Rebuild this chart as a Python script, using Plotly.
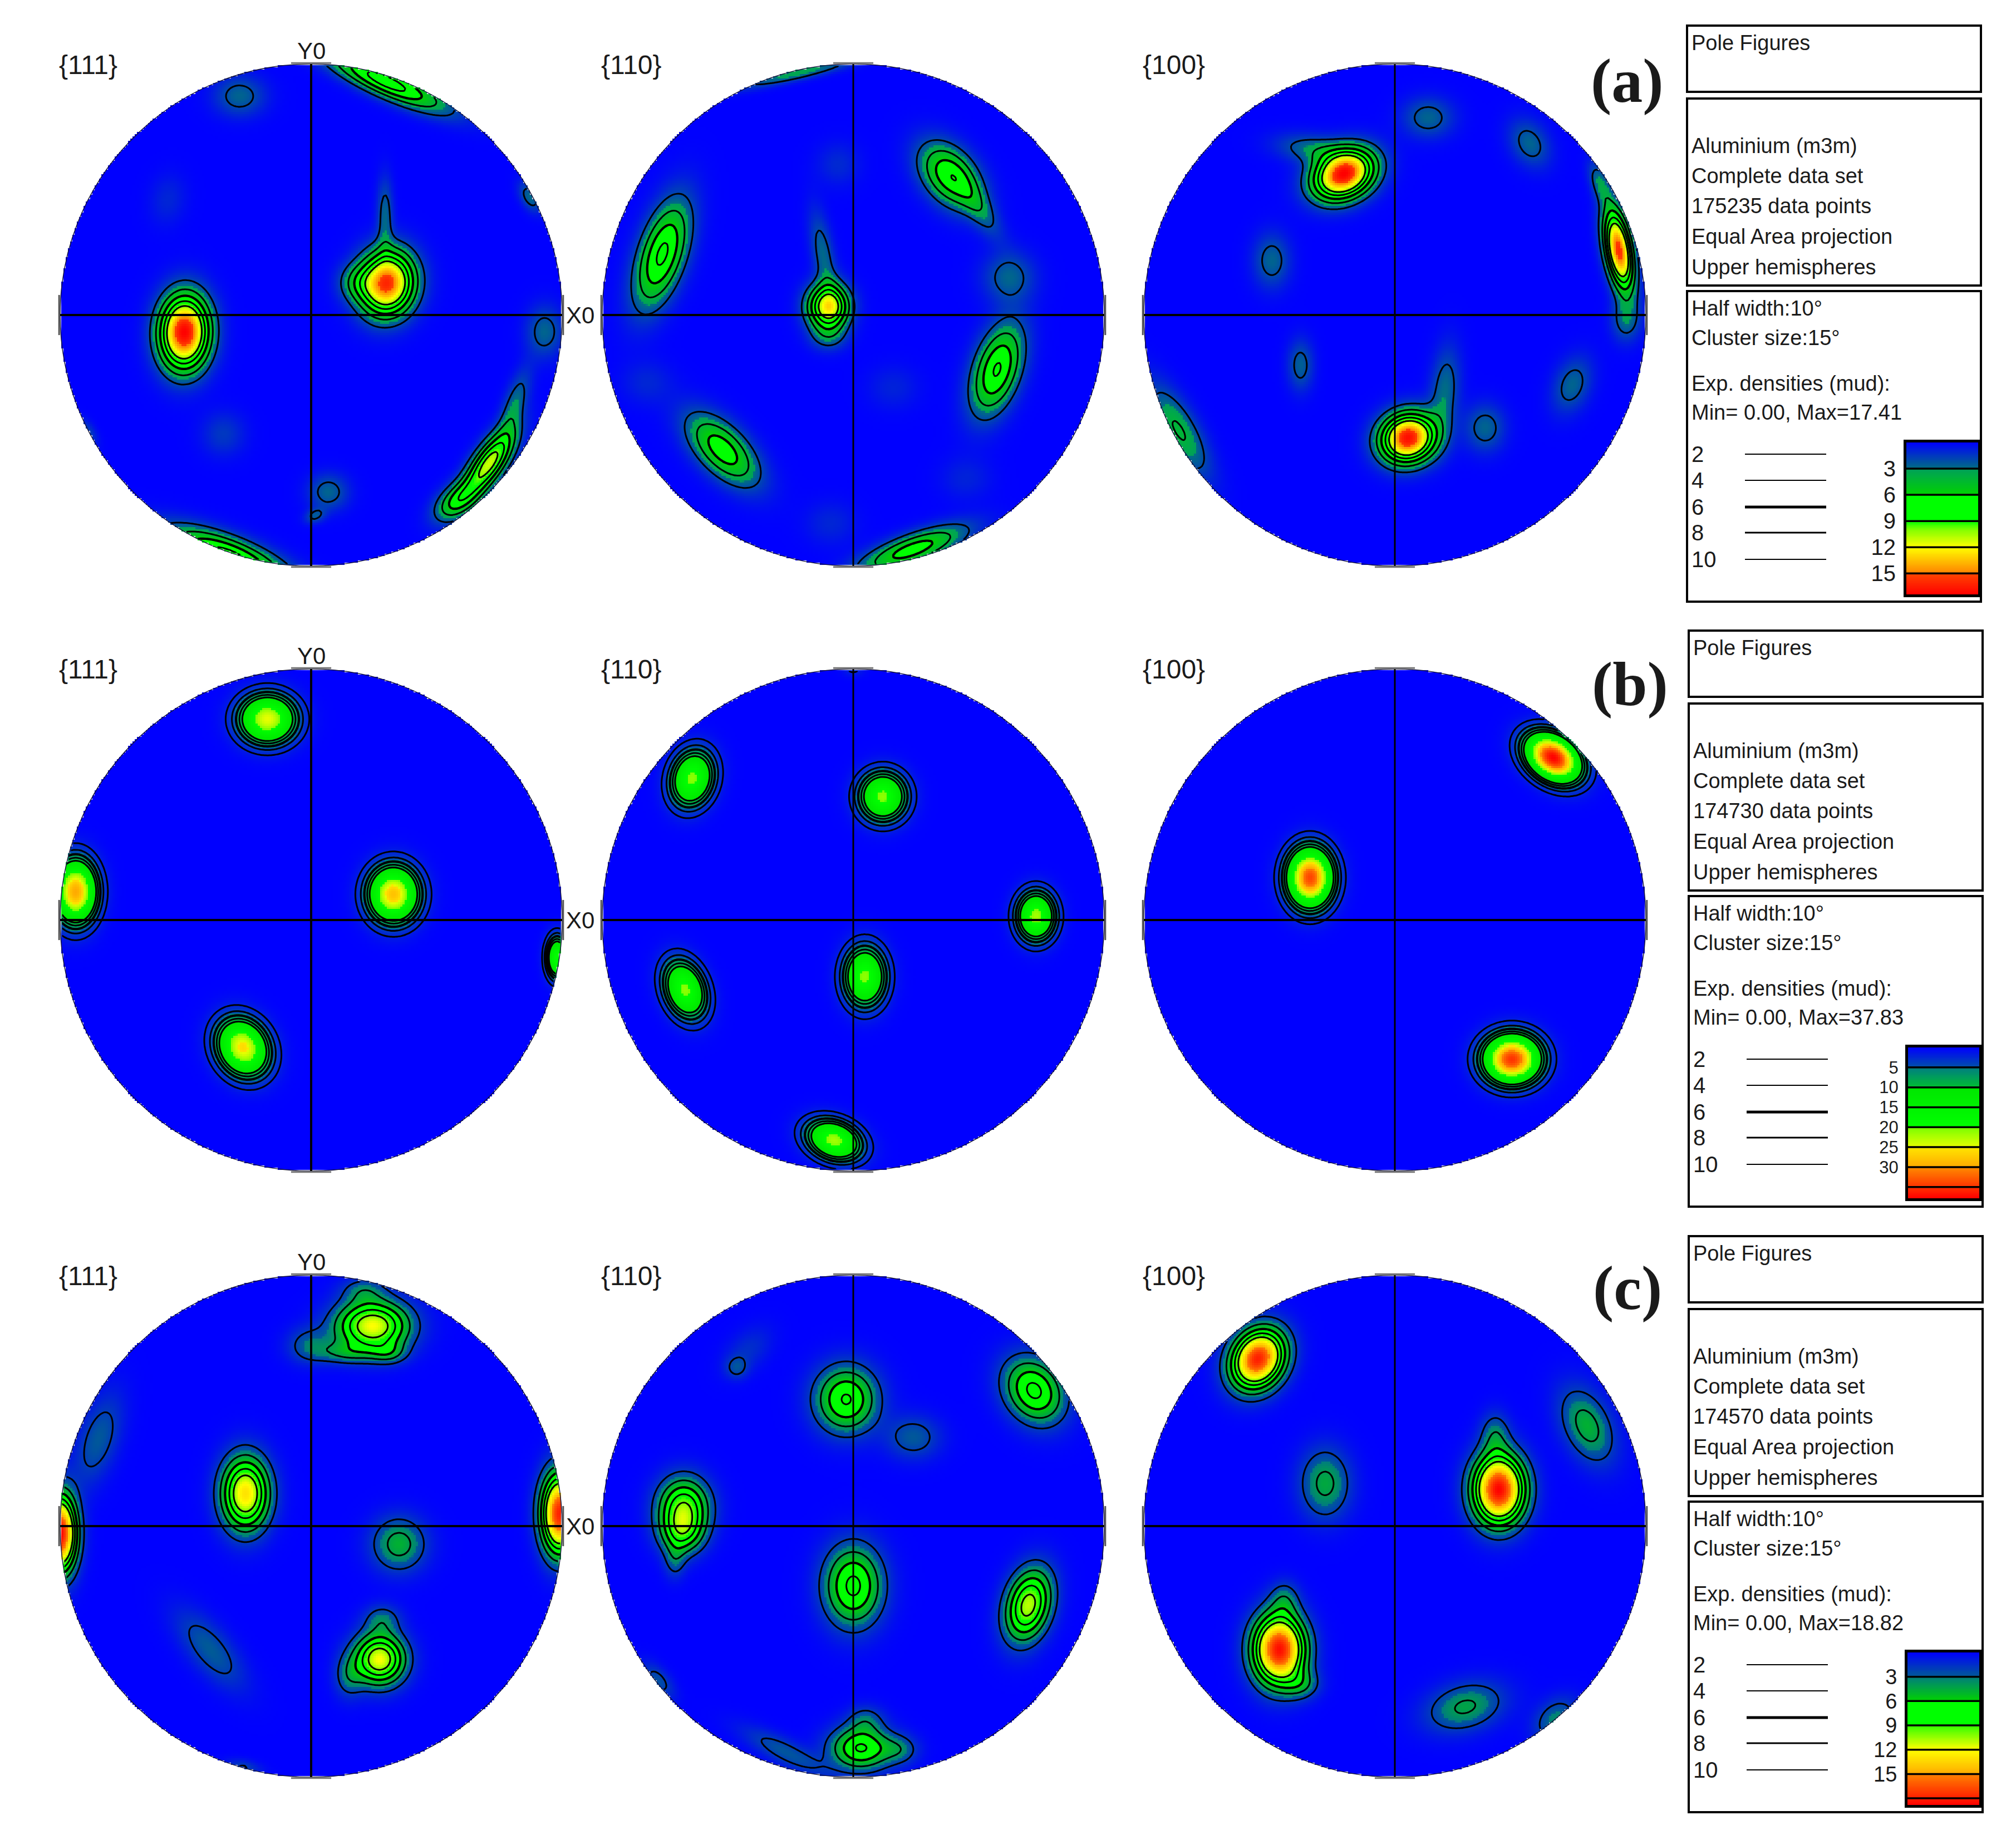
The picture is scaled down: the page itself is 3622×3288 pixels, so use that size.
import numpy as np
import plotly.graph_objects as go

WIDTH = 3622
HEIGHT = 3288
BODY_MARGIN = 8  # the page puts the figure 8px in from its corner

# pole density peaks, in pole figure coordinates (unit disk)
# x, y, peak density, sigma along, sigma across, angle of the long side in degrees
A_111 = [(-.505, -.069, 17.4, .10, .066, 88), (.303, .126, 16, .087, .073, 80), (.295, .40, 2.7, .10, .022, 90),
         (.18, .13, 2.8, .05, .05, 0), (.708, -.591, 11, .105, .04, 55), (.81, -.36, 3, .10, .03, 72),
         (.58, -.74, 6, .07, .04, 40), (.30, .93, 9, .17, .04, -24), (-.33, -.96, 9, .17, .05, -21),
         (-.285, .872, 2.7, .07, .055, 0), (.93, -.066, 2.7, .07, .05, 90), (.069, -.705, 2.7, .055, .05, 0),
         (.015, -.80, 2.2, .03, .02, 20), (.872, .47, 2.8, .045, .025, -60), (-.35, -.474, 1.5, .06, .06, 0),
         (-.57, .46, 1.0, .07, .05, 80), (-.89, -.466, 1.8, .04, .02, -60)]
A_110 = [(-.10, .033, 12.5, .06, .055, 90), (-.12, .24, 2.8, .12, .03, 100), (-.10, -.085, 2.3, .05, .04, 0),
         (-.761, .243, 8.4, .148, .06, 72), (.385, .555, 7.5, .10, .065, -50), (.50, .43, 2.6, .10, .035, -57),
         (.62, .15, 2.7, .07, .07, 90), (.573, -.217, 8.2, .125, .06, 72), (-.52, -.537, 7.2, .12, .06, -45),
         (.237, -.934, 7, .15, .04, 20), (-.22, .965, 3.4, .18, .02, 13), (-.82, -.27, 1, .07, .06, 0),
         (-.06, .60, 1.1, .06, .06, 0), (.16, -.29, .9, .07, .06, 0), (.45, -.65, .9, .07, .06, 0),
         (-.09, -.83, 1, .07, .06, 0)]
A_100 = [(-.204, .56, 17.4, .085, .062, 25), (-.33, .66, 2.8, .10, .04, -8), (.892, .259, 16, .11, .035, -80),
         (.817, .524, 3, .06, .025, -70), (.92, -.02, 2.7, .06, .04, 90), (.053, -.49, 17, .075, .065, 20),
         (.20, -.30, 2.9, .12, .04, 85), (.133, .786, 2.7, .07, .055, 0), (.537, .683, 2.7, .07, .05, -60),
         (-.49, .217, 2.7, .075, .05, 90), (-.376, -.20, 2.6, .07, .035, 90), (.706, -.279, 2.7, .08, .05, 70),
         (.36, -.45, 2.7, .065, .055, 90), (-.86, -.46, 4.2, .14, .05, -60)]

B_111 = [(-.174, .80, 25, .074, .064, 0), (.328, .103, 28, .074, .066, 90), (-.938, .113, 30, .083, .055, 90),
         (-.272, -.508, 26, .078, .064, 120), (.98, -.15, 20, .055, .028, 90)]
B_110 = [(-.641, .564, 21, .074, .055, 75), (.118, .492, 21, .064, .062, 90), (.728, .015, 22, .064, .05, 90),
         (-.67, -.277, 21, .078, .052, 110), (.046, -.226, 21, .078, .055, 90), (-.077, -.877, 22, .074, .05, -20),
         (0, 1.0, 2.5, .03, .02, 0)]
B_100 = [(.63, .646, 37.8, .078, .055, -35), (-.338, .169, 34, .078, .06, 90), (.467, -.554, 35, .074, .064, 0)]

C_111 = [(-.262, .13, 13, .10, .065, 90), (.245, .797, 12, .10, .07, 0), (-.01, .72, 2.8, .06, .05, 0),
         (.135, .69, 3, .08, .03, 0), (.31, .69, 3, .05, .03, 0), (.21, .94, 2.6, .06, .035, 0),
         (.273, -.53, 12, .07, .07, 0), (.284, -.37, 2.8, .05, .04, 0), (.15, -.6, 2.7, .06, .04, 90),
         (.35, -.072, 4.8, .075, .075, 0), (-.847, .346, 2.9, .13, .055, 72), (-.402, -.492, 3, .13, .055, -50),
         (-1.0, -.03, 18.8, .105, .045, 90), (.99, .05, 18, .11, .05, 90), (-.27, -.96, 2.1, .05, .02, -10)]
C_110 = [(-.028, .505, 8.2, .09, .085, 90), (.72, .54, 8.5, .095, .075, -55), (.24, .354, 2.9, .075, .06, 0),
         (-.675, .077, 9.5, .08, .07, 90), (-.683, -.03, 6, .06, .06, 0), (-.71, -.14, 2.4, .05, .03, 90),
         (0, -.238, 8.5, .11, .08, 90), (.697, -.315, 11, .10, .06, 75), (.03, -.885, 8.2, .085, .06, 0),
         (.05, -.77, 2.4, .05, .04, 0), (.19, -.89, 2.6, .05, .04, 0), (-.27, -.90, 2.8, .13, .035, -27),
         (-.465, .63, 2.05, .03, .03, 0), (-.42, .70, 1.5, .08, .05, 45), (-.777, -.615, 2.6, .06, .03, -50)]
C_100 = [(-.545, .665, 18, .085, .068, 60), (.415, .146, 18.8, .095, .07, 90), (.40, .37, 3, .06, .04, 90),
         (-.461, -.492, 18.5, .095, .07, 90), (-.44, -.29, 2.6, .05, .04, 90), (-.37, -.63, 3, .05, .04, 0),
         (.766, .40, 4.8, .11, .065, -65), (-.278, .17, 4.5, .097, .07, 90), (.28, -.72, 4.3, .11, .065, 15),
         (.64, -.77, 3.4, .07, .05, 45)]

ROW_PEAKS = [[A_111, A_110, A_100], [B_111, B_110, B_100], [C_111, C_110, C_100]]
POLE_LABELS = ['{111}', '{110}', '{100}']
ROW_LABELS = ['(a)', '(b)', '(c)']

# colour band values and colours of the density scale of each row
MAX_DENSITY = [17.41, 37.83, 18.82]
SCALE_VALUES = [
    [0, 3, 3.01, 6, 6.01, 9, 10, 12, 15, 15.01, 17.41],
    [0, 5, 5.01, 10, 10.01, 20, 20.01, 25, 25.01, 30, 30.01, 35, 37.83],
    [0, 3, 3.01, 6, 6.01, 9, 9.01, 12, 15, 15.01, 18, 18.82],
]
SCALE_COLORS = [
    ['#0000ff', '#006e82', '#00a05a', '#00d200', '#00ff00', '#00ff00', '#82ff00', '#ffff00', '#ff8200', '#ff4600', '#ff0000'],
    ['#0000ff', '#0050aa', '#007d82', '#00be32', '#00e600', '#00ff00', '#78ff00', '#e6ff00', '#ffe600', '#ffaa00', '#ff8c00', '#ff3200', '#ff0000'],
    ['#0000ff', '#005a96', '#007d7d', '#00d200', '#00ff00', '#00ff00', '#30ff00', '#ffff00', '#ffaa00', '#ff8200', '#ff1e00', '#ff0000'],
]
BAR_TICKS = [[3, 6, 9, 12, 15], [5, 10, 15, 20, 25, 30, 35], [3, 6, 9, 12, 15, 18]]
BAR_TICK_LABELS = [['3', '6', '9', '12', '15'], ['5', '10', '15', '20', '25', '30', ''], ['3', '6', '9', '12', '15', '']]
BAR_TICK_SIZE = [40, 31, 38]

# contour levels and their legend labels
CONTOUR_LEVELS = [2, 4, 6, 8, 10]
CONTOUR_WIDTHS = [2, 2, 5, 3, 2]

DATA_POINTS = ['175235', '174730', '174570']
MAX_TEXT = ['17.41', '37.83', '18.82']

# layout in pixels of the full page
DISK_R = 451
DISK_CX = [559, 1533, 2506]
DISK_CY = [566, 1653, 2742]
BOX_DY = [0, 1087, 2175]
BOX_DX = [0, 3, 3]
BAR_BOX = [(3425, 3554, 795, 1068), (3428, 3556, 1882, 2153), (3427, 3556, 2969, 3243)]
LABEL_XY = [(2923, 145), (2928, 1229), (2924, 2314)]
GRID_N = 226


def px(x):
    return (x - BODY_MARGIN) / WIDTH


def py(y):
    return 1 - (y - BODY_MARGIN) / HEIGHT


def density(peaks, x, y):
    z = np.zeros_like(x)
    for px0, py0, amp, s_long, s_short, angle in peaks:
        t = np.radians(angle)
        u = (x - px0) * np.cos(t) + (y - py0) * np.sin(t)
        v = -(x - px0) * np.sin(t) + (y - py0) * np.cos(t)
        z += amp * np.exp(-u ** 2 / (2 * s_long ** 2) - v ** 2 / (2 * s_short ** 2))
    z[x ** 2 + y ** 2 > 1] = np.nan
    return z


def text(x, y, s, size=38, anchor='left', family='Liberation Sans', bold=False):
    return dict(x=px(x), y=py(y), xref='paper', yref='paper', text=f'<b>{s}</b>' if bold else s, showarrow=False,
                xanchor=anchor, yanchor='middle', font=dict(family=family, size=size, color='#1a1a1a'))


def paper_line(x0, x1, y0, y1, width, color='black'):
    return dict(type='line', xref='paper', yref='paper', x0=px(x0), x1=px(x1), y0=py(y0), y1=py(y1),
                line=dict(color=color, width=width))


fig = go.Figure()
shapes = []
annotations = []
axes = {}
axis_no = 0
grid = np.linspace(-1, 1, GRID_N)
gx, gy = np.meshgrid(grid, grid)

for row in range(3):
    vals = SCALE_VALUES[row]
    colorscale = [[v / vals[-1], c] for v, c in zip(vals, SCALE_COLORS[row])]

    for col in range(3):
        axis_no += 1
        xname = 'x' if axis_no == 1 else f'x{axis_no}'
        yname = 'y' if axis_no == 1 else f'y{axis_no}'
        cx, cy = DISK_CX[col], DISK_CY[row]
        pad = 1.02
        axes[xname.replace('x', 'xaxis')] = dict(domain=[px(cx - DISK_R * pad), px(cx + DISK_R * pad)],
                                                 range=[-pad, pad], visible=False, anchor=yname)
        axes[yname.replace('y', 'yaxis')] = dict(domain=[py(cy + DISK_R * pad), py(cy - DISK_R * pad)],
                                                 range=[-pad, pad], visible=False, anchor=xname)

        z = density(ROW_PEAKS[row][col], gx, gy)
        fig.add_trace(go.Heatmap(x=grid, y=grid, z=z, zmin=0, zmax=vals[-1], colorscale=colorscale,
                                 showscale=False, hoverinfo='skip', xaxis=xname, yaxis=yname))
        fig.add_trace(go.Contour(x=grid, y=grid, z=z, showscale=False, hoverinfo='skip', connectgaps=False,
                                 contours=dict(start=CONTOUR_LEVELS[0], end=CONTOUR_LEVELS[-1], size=2, coloring='none'),
                                 line=dict(color='black', width=3, smoothing=0.6), xaxis=xname, yaxis=yname))
        fig.add_trace(go.Contour(x=grid, y=grid, z=z, showscale=False, hoverinfo='skip', connectgaps=False,
                                 contours=dict(start=6, end=6, size=1, coloring='none'),
                                 line=dict(color='black', width=4.2, smoothing=0.6), xaxis=xname, yaxis=yname))

        # rim, cross and the small tangent marks at the ends of the cross
        shapes.append(dict(type='circle', xref=xname, yref=yname, x0=-1, x1=1, y0=-1, y1=1,
                           line=dict(color='#14143c', width=1.5)))
        shapes.append(dict(type='line', xref=xname, yref=yname, x0=-1, x1=1, y0=0, y1=0,
                           line=dict(color='black', width=4)))
        shapes.append(dict(type='line', xref=xname, yref=yname, x0=0, x1=0, y0=-1, y1=1,
                           line=dict(color='black', width=4 if col == 0 else 3)))
        for sign in (-1, 1):
            shapes.append(dict(type='line', xref=xname, yref=yname, x0=-.08, x1=.08, y0=sign * 1.004, y1=sign * 1.004,
                               line=dict(color='#777777', width=3)))
            shapes.append(dict(type='line', xref=xname, yref=yname, x0=sign * 1.004, x1=sign * 1.004, y0=-.08, y1=.08,
                               line=dict(color='#555555', width=3)))

        annotations.append(text(cx - DISK_R - 4, cy - 450, POLE_LABELS[col], size=48))
        if col == 0:
            annotations.append(text(cx, cy - 475, 'Y0', size=42, anchor='center'))
            annotations.append(text(cx + 483, cy, 'X0', size=42, anchor='center'))

    # colour scale bar, on its own small axes
    axis_no += 1
    xname, yname = f'x{axis_no}', f'y{axis_no}'
    bx0, bx1, by0, by1 = BAR_BOX[row]
    axes[f'xaxis{axis_no}'] = dict(domain=[px(bx0), px(bx1)], range=[0, 1], anchor=yname, showticklabels=False,
                                   ticks='', showgrid=False, zeroline=False, showline=True, mirror=True,
                                   linecolor='black', linewidth=5)
    axes[f'yaxis{axis_no}'] = dict(domain=[py(by1), py(by0)], range=[vals[-1], 0], anchor=xname, side='left',
                                   tickvals=BAR_TICKS[row], ticktext=BAR_TICK_LABELS[row], ticks='outside', ticklen=6,
                                   tickcolor='rgba(0,0,0,0)', showgrid=False, zeroline=False, showline=True, mirror=True,
                                   linecolor='black', linewidth=5,
                                   tickfont=dict(family='Liberation Sans', size=BAR_TICK_SIZE[row], color='#1a1a1a'))
    bar_values = np.linspace(0, vals[-1], 300)
    fig.add_trace(go.Heatmap(x=[0, 1], y=bar_values, z=np.column_stack([bar_values, bar_values]), zmin=0, zmax=vals[-1],
                             colorscale=colorscale, showscale=False, hoverinfo='skip', xaxis=xname, yaxis=yname))
    for tick in BAR_TICKS[row]:
        shapes.append(dict(type='line', xref=f'{xname} domain', yref=yname, x0=0, x1=1, y0=tick, y1=tick,
                           line=dict(color='black', width=3.5)))

    # side panel
    dx, dy = BOX_DX[row], BOX_DY[row]
    for top, bottom in [(46, 165), (177, 513), (523, 1081)]:
        shapes.append(dict(type='rect', xref='paper', yref='paper', x0=px(3031 + dx), x1=px(3559 + dx),
                           y0=py(top + dy), y1=py(bottom + dy), line=dict(color='black', width=4)))
    panel_lines = [('Pole Figures', 77), ('Aluminium (m3m)', 262), ('Complete data set', 316),
                   (f'{DATA_POINTS[row]} data points', 370), ('Equal Area projection', 425),
                   ('Upper hemispheres', 480), ('Half width:10°', 554), ('Cluster size:15°', 607),
                   ('Exp. densities (mud):', 689), (f'Min= 0.00, Max={MAX_TEXT[row]}', 741)]
    for s, y in panel_lines:
        annotations.append(text(3037 + dx, y + dy, s))
    for level, width, y in zip(CONTOUR_LEVELS, CONTOUR_WIDTHS, [816, 863, 911, 957, 1005]):
        annotations.append(text(3037 + dx, y + dy, str(level), size=40))
        shapes.append(paper_line(3135 + dx, 3281 + dx, y + dy, y + dy, width))

    lx, ly = LABEL_XY[row]
    annotations.append(text(lx, ly, ROW_LABELS[row], size=112, anchor='center', family='Liberation Serif', bold=True))

fig.update_layout(width=WIDTH, height=HEIGHT, margin=dict(l=0, r=0, t=0, b=0), paper_bgcolor='white',
                  plot_bgcolor='white', showlegend=False, shapes=shapes, annotations=annotations, **axes)
fig.write_html("out.html")
